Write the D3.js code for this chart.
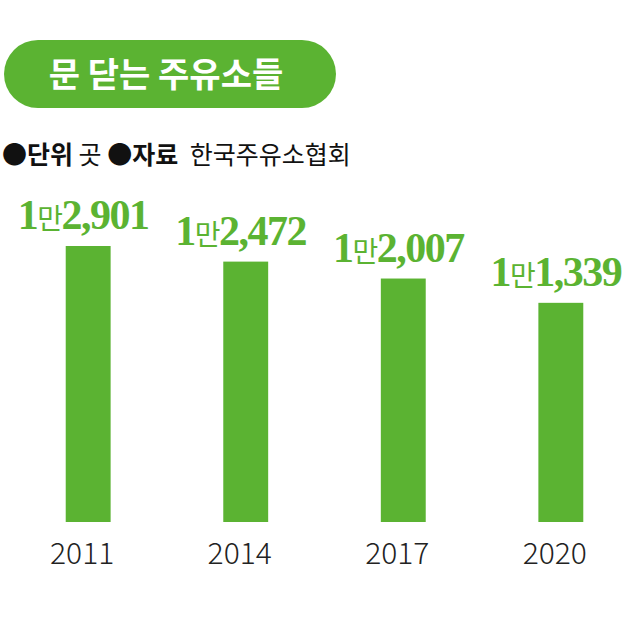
<!DOCTYPE html>
<html><head><meta charset="utf-8">
<script src="https://cdn.jsdelivr.net/npm/d3@7"></script>
<style>body{margin:0;background:#fff}</style>
</head><body>
<svg id="chart"></svg>
<script>
const years = ["2011", "2014", "2017", "2020"];
const values = [12901, 12472, 12007, 11339];
const labelsMan = ["1만", "1만", "1만", "1만"];
const labelsRest = ["2,901", "2,472", "2,007", "1,339"];

const width = 640, height = 619;
const green = "#5bb332";
const svg = d3.select("#chart").attr("width", width).attr("height", height);
const font = "'Noto Sans CJK KR', 'Noto Sans', sans-serif";

// title pill
svg.append("rect").attr("x", 4).attr("y", 40).attr("width", 332).attr("height", 68)
  .attr("rx", 34).attr("fill", green);
svg.append("text").attr("x", 166).attr("y", 87).attr("text-anchor", "middle")
  .attr("fill", "#fff").attr("font-family", font).attr("font-weight", 700)
  .attr("font-size", 34).text("문 닫는 주유소들");

// unit/source line
const sub = svg.append("text").attr("x", 2).attr("y", 164)
  .attr("font-family", font).attr("font-size", 25).attr("fill", "#111");
sub.append("tspan").attr("font-weight", 700).text("●단위");
sub.append("tspan").text(" 곳 ");
sub.append("tspan").attr("font-weight", 700).text("●자료");
sub.append("tspan").attr("dx", 6).text(" 한국주유소협회");

const x = d3.scaleBand().domain(years).range([9, 640]).paddingInner(0.715).paddingOuter(0.36);
const y = d3.scaleLinear().domain([5315, 12901]).range([522, 246]);

svg.selectAll("rect.bar").data(values).join("rect").attr("class", "bar")
  .attr("x", (d, i) => x(years[i])).attr("width", x.bandwidth())
  .attr("y", d => y(d)).attr("height", d => 522 - y(d)).attr("fill", green);

const lab = svg.selectAll("text.val").data(values).join("text").attr("class", "val")
  .attr("x", (d, i) => x(years[i]) + x.bandwidth() / 2 - 5)
  .attr("y", d => y(d) - 17).attr("text-anchor", "middle")
  .attr("fill", green).attr("font-family", "'Liberation Serif', serif")
  .attr("font-weight", 700).attr("letter-spacing", -1.5);
lab.append("tspan").attr("font-size", 42).text((d, i) => labelsMan[i][0]);
lab.append("tspan").attr("font-family", font).attr("font-weight", 400).attr("font-size", 28).text((d, i) => labelsMan[i][1]);
lab.append("tspan").attr("font-size", 42).text((d, i) => labelsRest[i]);

svg.selectAll("text.year").data(years).join("text").attr("class", "year")
  .attr("x", d => x(d) + x.bandwidth() / 2 - 6).attr("y", 564).attr("text-anchor", "middle")
  .attr("font-family", font).attr("font-weight", 300).attr("font-size", 30).attr("fill", "#222").text(d => d);
</script>
</body></html>
